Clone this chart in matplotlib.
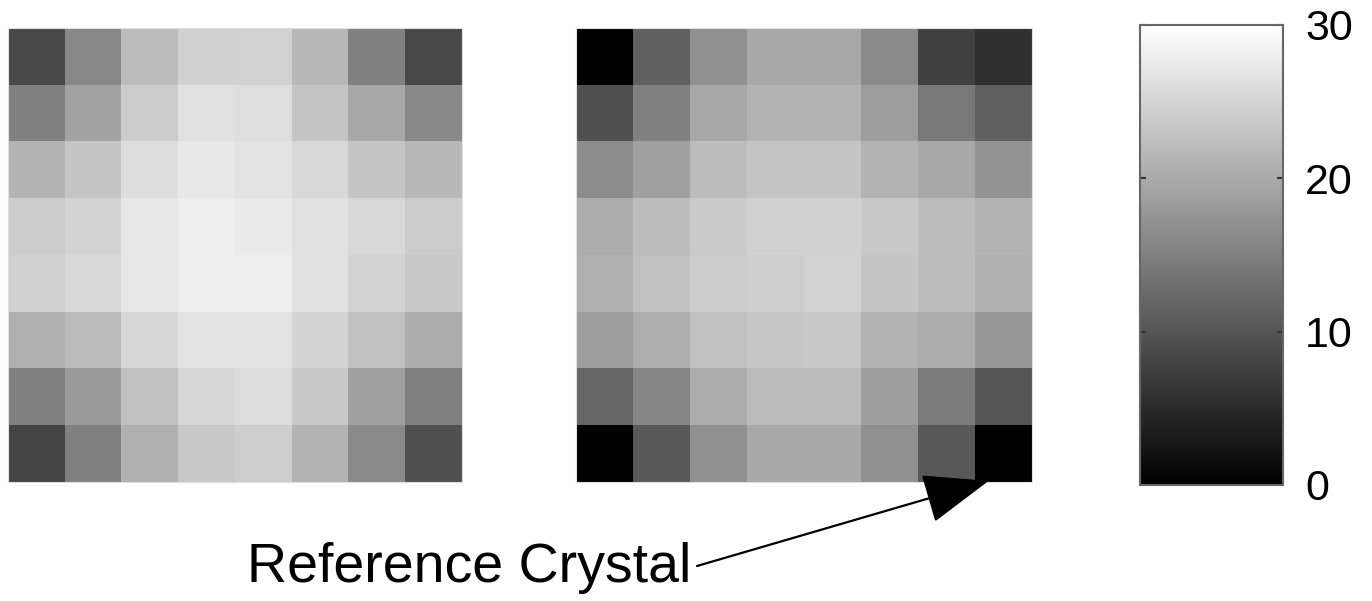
import matplotlib
matplotlib.use("Agg")
import matplotlib.pyplot as plt
import numpy as np

plt.rcParams['font.family'] = ['Liberation Sans', 'DejaVu Sans']

# crystal map values (0..30), rows top to bottom
measured = [
    [8.5, 16.0, 22.1, 24.5, 24.7, 21.6, 15.1, 8.5],
    [15.1, 19.3, 24.0, 26.4, 26.1, 23.1, 19.8, 16.0],
    [21.2, 23.1, 25.9, 27.3, 26.8, 25.4, 23.1, 21.6],
    [24.0, 24.9, 27.1, 28.0, 27.5, 26.4, 25.4, 24.0],
    [24.5, 25.4, 27.1, 28.0, 28.0, 26.4, 24.9, 23.5],
    [20.7, 21.9, 25.2, 26.8, 26.8, 24.9, 22.6, 20.2],
    [15.1, 18.1, 22.6, 25.2, 25.9, 23.5, 18.8, 15.1],
    [8.0, 15.1, 20.7, 23.5, 24.2, 21.2, 16.2, 9.4],
]
corrected = [
    [0.0, 11.3, 16.9, 19.8, 19.8, 16.2, 7.5, 5.6],
    [9.4, 15.1, 19.8, 21.2, 21.2, 18.4, 14.1, 11.3],
    [16.5, 18.8, 22.1, 23.1, 23.1, 21.2, 19.8, 17.4],
    [20.2, 22.1, 23.8, 24.5, 24.5, 23.5, 22.1, 21.2],
    [20.7, 22.6, 24.0, 24.2, 24.7, 23.1, 22.1, 20.7],
    [18.4, 20.5, 22.6, 23.3, 23.5, 21.2, 20.2, 17.9],
    [12.0, 15.8, 20.2, 21.9, 21.9, 18.6, 14.6, 10.1],
    [0.0, 10.4, 16.9, 19.8, 19.8, 16.9, 10.4, 0.0],
]
cbar_ticks = [0, 10, 20, 30]
vmin, vmax = 0, 30
ref_cell = (7, 7)  # row, col of the reference crystal
label = 'Reference Crystal'

W, H = 1372, 601
fig = plt.figure(figsize=(W / 100, H / 100), dpi=100)


def px_axes(x0, y0, x1, y1):
    # rectangle given in image pixels (top-left origin)
    return fig.add_axes([x0 / W, 1 - y1 / H, (x1 - x0) / W, (y1 - y0) / H])


ax1 = px_axes(8, 28, 462, 482)
ax2 = px_axes(576, 28, 1032, 482)
cax = px_axes(1140, 25, 1283, 485)

for ax, data in [(ax1, measured), (ax2, corrected)]:
    im = ax.imshow(np.array(data), cmap='gray', vmin=vmin, vmax=vmax,
                   interpolation='nearest', aspect='auto')
    ax.set_xticks([])
    ax.set_yticks([])
    for s in ax.spines.values():
        s.set_color('#e0e0e0')
        s.set_linewidth(0.8)

cb = fig.colorbar(im, cax=cax, ticks=cbar_ticks)
cb.outline.set_edgecolor('#666666')
cb.outline.set_linewidth(1.5)
cax.tick_params(axis='y', direction='in', length=4, width=1.5, pad=16,
                labelsize=31, left=True, right=True, colors='#333333',
                labelcolor='black')

# label and arrow to the reference crystal
fig.text(247 / W, 1 - 582 / H, label, fontsize=40, ha='left',
         va='baseline')
r, c = ref_cell
ax2.annotate('', xy=(c - 0.26, r + 0.48), xycoords='data',
             xytext=(697, H - 566), textcoords='figure pixels',
             arrowprops=dict(arrowstyle='-|>,head_length=2.1,head_width=0.8',
                             mutation_scale=20, color='black', lw=1.6,
                             shrinkA=0, shrinkB=0),
             annotation_clip=False)

fig.savefig('out.png', dpi=100)
